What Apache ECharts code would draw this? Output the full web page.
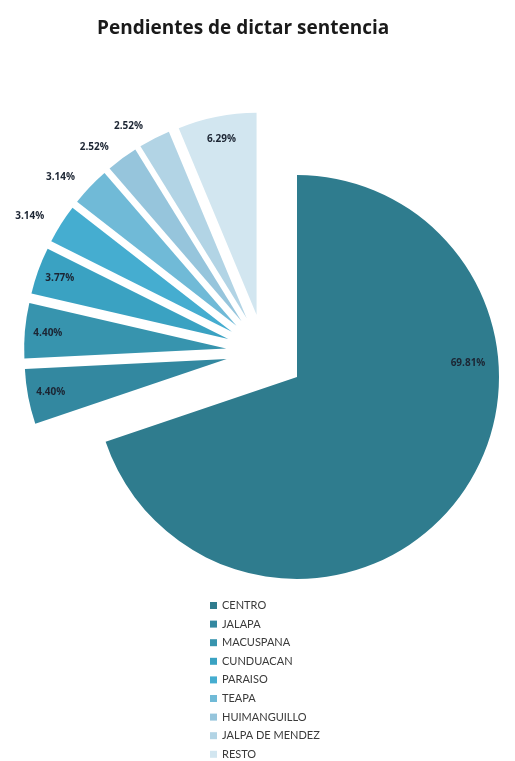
<!DOCTYPE html>
<html>
<head>
<meta charset="utf-8">
<script src="https://cdn.jsdelivr.net/npm/echarts@6/dist/echarts.min.js"></script>
<style>
html, body { margin: 0; padding: 0; background: #fff; }
#chart { width: 515px; height: 761px; }
</style>
</head>
<body>
<div id="chart"></div>
<script>
// datos
var municipios = ['CENTRO', 'JALAPA', 'MACUSPANA', 'CUNDUACAN', 'PARAISO', 'TEAPA', 'HUIMANGUILLO', 'JALPA DE MENDEZ', 'RESTO'];
var porcentajes = [69.81, 4.40, 4.40, 3.77, 3.14, 3.14, 2.52, 2.52, 6.29];

// estilo
var colores = ['#2f7c8e', '#3388a0', '#3794ae', '#3aa2c2', '#45add0', '#70bad7', '#96c5dc', '#b2d4e5', '#d2e6f0'];
var etiquetaFuera = [false, false, false, false, true, true, true, true, false];

var chart = echarts.init(document.getElementById('chart'));

function fmt(p) {
	return p.value.toFixed(2) + '%';
}

var labelStyle = {
	color : '#1c2533',
	fontFamily : 'Open Sans',
	fontWeight : 'bold',
	fontSize : 10,
	formatter : fmt
};

var dataCentro = [], dataResto = [], dataEtiquetas = [], legendData = [];
for (var i = 0; i < municipios.length; i++) {
	dataCentro.push({
		name : municipios[i],
		value : porcentajes[i],
		itemStyle : { color : i == 0 ? colores[i] : 'transparent' },
		label : { show : i == 0 }
	});
	dataResto.push({
		name : municipios[i],
		value : porcentajes[i],
		selected : i > 0,
		itemStyle : { color : i == 0 ? 'transparent' : colores[i] }
	});
	dataEtiquetas.push({
		name : municipios[i],
		value : porcentajes[i],
		selected : i > 0,
		itemStyle : { color : 'transparent' },
		label : { show : i > 0, position : etiquetaFuera[i] ? 'outside' : 'inside' }
	});
	legendData.push({ name : municipios[i], itemStyle : { color : colores[i] } });
}

var option = {
	animation : false,
	title : {
		text : 'Pendientes de dictar sentencia',
		left : 92,
		top : 14,
		textStyle : { fontFamily : 'Open Sans', fontWeight : 'bold', fontSize : 19, color : '#1a1a1a' }
	},
	legend : {
		orient : 'vertical',
		left : 210,
		top : 599,
		padding : 0,
		itemWidth : 7,
		itemHeight : 7,
		itemGap : 5.6,
		icon : 'rect',
		data : legendData,
		textStyle : { fontFamily : 'Lato', fontSize : 11, lineHeight : 13, color : '#3a3a3a' }
	},
	series : [ {
		type : 'pie',
		silent : true,
		center : [ 297, 377 ],
		radius : 202,
		startAngle : 90,
		avoidLabelOverlap : false,
		label : Object.assign({ position : 'inside' }, labelStyle),
		labelLine : { show : false },
		labelLayout : function(p) {
			if (p.dataIndex == 0) return { x : 468, y : 363 };
		},
		data : dataCentro
	}, {
		type : 'pie',
		silent : true,
		center : [ 264, 352 ],
		radius : 202,
		startAngle : 90,
		selectedMode : 'multiple',
		selectedOffset : 38,
		label : { show : false },
		labelLine : { show : false },
		data : dataResto
	}, {
		type : 'pie',
		silent : true,
		center : [ 264, 352 ],
		radius : [ 150, 202 ],
		startAngle : 90,
		selectedMode : 'multiple',
		selectedOffset : 38,
		avoidLabelOverlap : false,
		label : labelStyle,
		labelLine : { show : false, length : 14, length2 : 0 },
		data : dataEtiquetas
	} ]
};
chart.setOption(option);
</script>
</body>
</html>
